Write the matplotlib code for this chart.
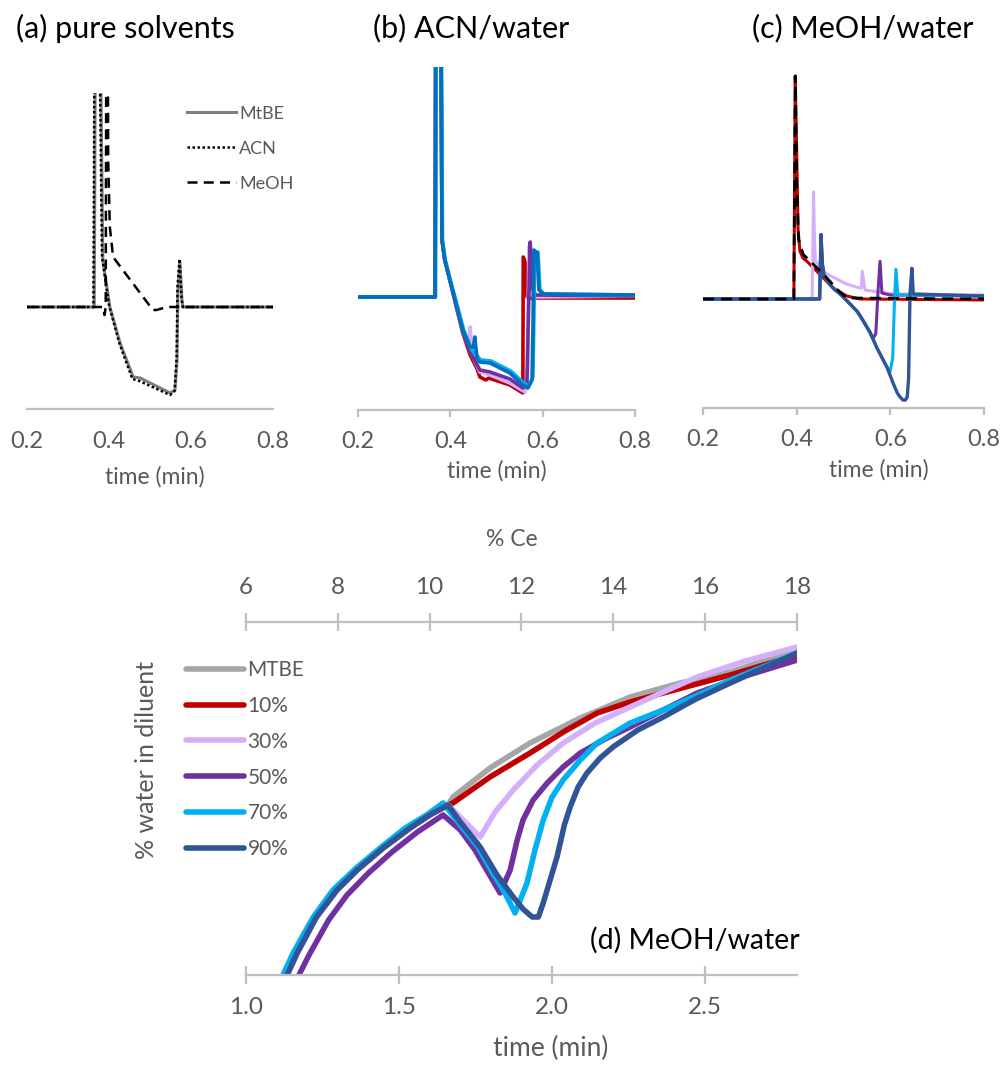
import numpy as np
import matplotlib
matplotlib.use("Agg")
import matplotlib.pyplot as plt
from matplotlib.ticker import FormatStrFormatter

plt.rcParams['font.family'] = ['Lato', 'DejaVu Sans']

W, H = 1003, 1068
GRID = '#BFBFBF'
TXT = '#595959'

# ---- (a) pure solvents ----
a_mtbe_t = [0.20, 0.364, 0.368, 0.372, 0.378, 0.385, 0.402, 0.427, 0.459, 0.476, 0.549, 0.561, 0.566, 0.568, 0.573, 0.578, 0.580, 0.80]
a_mtbe_v = [0, 0, 400, 400, 300, 47, 0, -36, -70, -71, -86, -83, -53, 14, 45, 7, 0, 0]
a_acn_t = [0.20, 0.362, 0.366, 0.370, 0.376, 0.383, 0.400, 0.425, 0.457, 0.474, 0.549, 0.560, 0.565, 0.567, 0.572, 0.577, 0.580, 0.80]
a_acn_v = [0, 0, 400, 400, 300, 50, 2, -36, -72, -74, -88, -84, -50, 20, 48, 8, 0, 0]
a_meoh_t = [0.20, 0.386, 0.389, 0.392, 0.394, 0.396, 0.398, 0.402, 0.410, 0.507, 0.516, 0.541, 0.80]
a_meoh_v = [0, 0, -8, 0, 400, 400, 147, 80, 50, -3, -3, 0, 0]

# ---- (b) ACN/water ----
b_labels = ['10%', '30%', '50%', '70%', '90%']
b_t = {
    '10%': [0.20, 0.367, 0.370, 0.376, 0.382, 0.388, 0.399, 0.414, 0.427, 0.443, 0.458, 0.464, 0.477, 0.483, 0.529, 0.557, 0.558, 0.562, 0.566, 0.570, 0.80],
    '30%': [0.20, 0.367, 0.370, 0.376, 0.382, 0.388, 0.399, 0.414, 0.427, 0.440, 0.443, 0.447, 0.464, 0.486, 0.529, 0.562, 0.567, 0.570, 0.574, 0.580, 0.80],
    '50%': [0.20, 0.367, 0.370, 0.376, 0.382, 0.388, 0.399, 0.414, 0.427, 0.443, 0.464, 0.486, 0.529, 0.557, 0.566, 0.571, 0.573, 0.578, 0.585, 0.80],
    '70%': [0.20, 0.368, 0.371, 0.377, 0.383, 0.389, 0.400, 0.416, 0.429, 0.445, 0.466, 0.488, 0.531, 0.559, 0.570, 0.579, 0.581, 0.583, 0.590, 0.594, 0.603, 0.80],
    '90%': [0.20, 0.367, 0.370, 0.376, 0.382, 0.388, 0.399, 0.414, 0.427, 0.443, 0.450, 0.453, 0.458, 0.464, 0.486, 0.529, 0.557, 0.568, 0.577, 0.579, 0.581, 0.588, 0.592, 0.601, 0.80],
}
b_v = {
    '10%': [0, 0, 600, 600, 57, 37, 17, -12, -36, -58, -72, -80, -83, -81, -88, -96, 40, 35, 0, -1, -1],
    '30%': [0, 0, 600, 600, 57, 37, 17, -10, -35, -50, -30, -58, -75, -78, -86, -95, -80, 50, 5, 0, 1],
    '50%': [0, 0, 600, 600, 57, 37, 17, -10, -35, -55, -73, -75, -82, -91, -85, 20, 55, 8, 2, 1],
    '70%': [0, 0, 600, 600, 57, 37, 17, -10, -33, -52, -63, -64, -74, -86, -89, -80, -20, 40, 45, 7, 3, 2],
    '90%': [0, 0, 600, 600, 57, 37, 17, -10, -33, -50, -50, -40, -62, -65, -66, -76, -88, -91, -83, -30, 47, 44, 7, 3, 2],
}
b_colors = ['#C00000', '#D5B0FA', '#7030A0', '#00B0F0', '#0070C0']

# ---- (c) MeOH/water ----
c_red_t = [0.20, 0.394, 0.397, 0.400, 0.403, 0.407, 0.414, 0.422, 0.443, 0.478, 0.507, 0.535, 0.80]
c_red_v = [0, 0, 225, 150, 70, 48, 41, 38, 28, 11, 3, 0, -1]
c_meoh_t = [0.20, 0.394, 0.397, 0.400, 0.404, 0.414, 0.440, 0.465, 0.490, 0.507, 0.80]
c_meoh_v = [0, 0, 225, 120, 60, 45, 33, 21, 8, 1, 0]
c_30_t = [0.20, 0.433, 0.436, 0.438, 0.440, 0.465, 0.507, 0.535, 0.538, 0.540, 0.546, 0.606, 0.80]
c_30_v = [0, 0, 108, 60, 38, 25, 15, 11, 11, 28, 9, 5, 4]
c_50_t = [0.20, 0.449, 0.452, 0.455, 0.458, 0.465, 0.480, 0.493, 0.514, 0.530, 0.542, 0.557, 0.563, 0.569, 0.574, 0.578, 0.582, 0.600, 0.80]
c_50_v = [0, 0, 65, 35, 25, 18, 10, 5, -5, -13, -22, -34, -40, -35, 10, 38, 6, 4, 3]
c_70_t = [0.20, 0.449, 0.452, 0.455, 0.458, 0.465, 0.480, 0.493, 0.514, 0.530, 0.542, 0.557, 0.571, 0.583, 0.593, 0.599, 0.605, 0.609, 0.612, 0.616, 0.80]
c_70_v = [0, 0, 53, 35, 25, 18, 10, 5, -5, -13, -22, -34, -49, -60, -69, -74, -60, 0, 30, 4, 3]
c_90_t = [0.20, 0.449, 0.452, 0.455, 0.458, 0.465, 0.480, 0.493, 0.514, 0.530, 0.542, 0.557, 0.571, 0.583, 0.593, 0.606, 0.615, 0.621, 0.627, 0.632, 0.636, 0.639, 0.642, 0.646, 0.649, 0.80]
c_90_v = [0, 0, 65, 35, 25, 18, 10, 5, -5, -13, -22, -34, -49, -60, -69, -85, -95, -99, -102, -102, -99, -80, 5, 31, 5, 3]

# ---- (d) MeOH/water, % water in diluent ----
d_labels = ['MTBE', '10%', '30%', '50%', '70%', '90%']
d_colors = ['#A6A6A6', '#C00000', '#D5B0FA', '#7030A0', '#00B0F0', '#2F5597']
rise_t = [1.134, 1.167, 1.230, 1.297, 1.363, 1.448, 1.536, 1.600, 1.660]
rise_v = [0, 22, 58, 85, 105, 127, 147, 160, 170]
d_t = {
    'MTBE': rise_t + [1.676, 1.797, 1.928, 2.092, 2.255, 2.418, 2.582, 2.801],
    '10%': rise_t + [1.676, 1.797, 1.928, 2.042, 2.147, 2.255, 2.363, 2.582, 2.801],
    '30%': rise_t + [1.765, 1.814, 1.873, 1.951, 2.036, 2.141, 2.255, 2.363, 2.474, 2.631, 2.801],
    '50%': [1.173, 1.206, 1.270, 1.330, 1.400, 1.477, 1.560, 1.644, 1.700, 1.748, 1.790, 1.830,
            1.863, 1.886, 1.905, 1.938, 1.984, 2.036, 2.092, 2.173, 2.255, 2.363, 2.474, 2.631, 2.801],
    '70%': [1.121, 1.154, 1.220, 1.284, 1.360, 1.438, 1.520, 1.590, 1.644, 1.700, 1.758, 1.800, 1.846, 1.879,
            1.918, 1.944, 1.971, 2.000, 2.036, 2.092, 2.147, 2.255, 2.363, 2.484, 2.582, 2.696, 2.801],
    '90%': rise_t + [1.700, 1.765, 1.820, 1.873, 1.905, 1.935, 1.955, 1.971, 2.016, 2.040, 2.059, 2.085,
                     2.114, 2.157, 2.199, 2.280, 2.363, 2.470, 2.582, 2.690, 2.801],
}
d_v = {
    'MTBE': rise_v + [178, 207, 232, 257, 278, 292, 303, 325],
    '10%': rise_v + [172, 198, 222, 244, 262, 273, 282, 300, 320],
    '30%': rise_v + [138, 163, 185, 210, 232, 252, 268, 283, 298, 314, 328],
    '50%': [0, 20, 55, 80, 102, 123, 143, 160, 145, 125, 103, 82,
            105, 135, 155, 175, 192, 208, 222, 236, 248, 265, 282, 299, 315],
    '70%': [0, 22, 58, 85, 107, 127, 147, 160, 172, 150, 128, 105, 82, 62,
            92, 125, 155, 178, 195, 215, 232, 252, 265, 281, 295, 309, 322],
    '90%': rise_v + [153, 128, 100, 78, 66, 58, 58, 72, 118, 150, 168, 188,
                     202, 217, 228, 245, 258, 276, 292, 307, 322],
}


def box(x0, y0, x1, y1):
    return [x0 / W, 1 - y1 / H, (x1 - x0) / W, (y1 - y0) / H]


def style_top(ax, ylim, ticks_out=True):
    ax.set_xlim(0.2, 0.8)
    ax.set_ylim(*ylim)
    for s in ['top', 'right', 'left']:
        ax.spines[s].set_visible(False)
    ax.spines['bottom'].set_color(GRID)
    ax.spines['bottom'].set_linewidth(1.6)
    ax.set_yticks([])
    ax.set_xticks([0.2, 0.4, 0.6, 0.8])
    ax.xaxis.set_major_formatter(FormatStrFormatter('%.1f'))
    ax.tick_params(axis='x', colors=GRID, labelcolor=TXT, labelsize=17,
                   length=5 if ticks_out else 0, width=1.6, pad=10 if ticks_out else 16)


fig = plt.figure(figsize=(W / 100, H / 100), dpi=100)

# (a)
ax = fig.add_axes(box(27, 93, 273, 409))
ax.plot(a_mtbe_t, a_mtbe_v, color='#7F7F7F', lw=2.2, label='MtBE')
ax.plot(a_acn_t, a_acn_v, color='black', lw=1.8, ls=(0, (1, 1)), label='ACN')
ax.plot(a_meoh_t, a_meoh_v, color='black', lw=1.8, ls=(0, (4, 2.5)), label='MeOH')
style_top(ax, (-102, 214), ticks_out=False)
ax.legend(loc='upper left', bbox_to_anchor=(0.65, 0.96), frameon=False, fontsize=13,
          labelcolor=TXT, handlelength=2.7, handletextpad=0.2, labelspacing=1.05,
          borderpad=0, borderaxespad=0)

# (b)
ax = fig.add_axes(box(358, 67, 635, 410))
for lab, col in zip(b_labels, b_colors):
    ax.plot(b_t[lab], b_v[lab], color=col, lw=2.6, solid_joinstyle='round')
style_top(ax, (-113, 230))

# (c)
ax = fig.add_axes(box(703, 73, 984, 408))
ax.plot(c_red_t, c_red_v, color='#C00000', lw=2.2)
ax.plot(c_30_t, c_30_v, color='#D5B0FA', lw=2.2)
ax.plot(c_50_t, c_50_v, color='#7030A0', lw=2.2)
ax.plot(c_70_t, c_70_v, color='#00B0F0', lw=2.2)
ax.plot(c_90_t, c_90_v, color='#2F5597', lw=2.4)
ax.plot(c_meoh_t, c_meoh_v, color='black', lw=2.0, ls=(0, (4, 2.5)))
style_top(ax, (-110, 228))

fig.text(16 / W, 1 - 28 / H, '(a) pure solvents', fontsize=22, va='center')
fig.text(373 / W, 1 - 28 / H, '(b) ACN/water', fontsize=22, va='center')
fig.text(752 / W, 1 - 28 / H, '(c) MeOH/water', fontsize=22, va='center')
fig.text(155 / W, 1 - 477 / H, 'time (min)', fontsize=16.5, color=TXT, ha='center', va='center')
fig.text(497 / W, 1 - 471 / H, 'time (min)', fontsize=16.5, color=TXT, ha='center', va='center')
fig.text(879 / W, 1 - 470 / H, 'time (min)', fontsize=16.5, color=TXT, ha='center', va='center')

# (d)
ax = fig.add_axes(box(246, 622, 797, 975))
for lab, col in zip(d_labels, d_colors):
    ax.plot(d_t[lab], d_v[lab], color=col, lw=4, label=lab,
            solid_joinstyle='round', solid_capstyle='round')
ax.set_xlim(1.0, 2.8)
ax.set_ylim(0, 353)
for s in ['top', 'right', 'left']:
    ax.spines[s].set_visible(False)
ax.spines['bottom'].set_color(GRID)
ax.spines['bottom'].set_linewidth(1.6)
ax.set_yticks([])
ax.set_xticks([1.0, 1.5, 2.0, 2.5])
ax.xaxis.set_major_formatter(FormatStrFormatter('%.1f'))
ax.tick_params(axis='x', direction='inout', length=13, width=1.6, colors=GRID,
               labelcolor=TXT, labelsize=17.5, pad=9)

secax = ax.secondary_xaxis('top', functions=(lambda t: 6 + (t - 1.0) * 20 / 3,
                                             lambda c: 1.0 + (c - 6) * 3 / 20))
secax.set_xticks([6, 8, 10, 12, 14, 16, 18])
secax.spines['top'].set_color(GRID)
secax.spines['top'].set_linewidth(1.6)
secax.tick_params(axis='x', direction='inout', length=13, width=1.6, colors=GRID,
                  labelcolor=TXT, labelsize=17.5, pad=11)

fig.text(512 / W, 1 - 540 / H, '% Ce', fontsize=16.5, color=TXT, ha='center', va='center')
fig.text(551 / W, 1 - 1048 / H, 'time (min)', fontsize=19, color=TXT, ha='center', va='center')
fig.text(147 / W, 1 - 760 / H, '% water in diluent', fontsize=18, color=TXT,
         rotation=90, ha='center', va='center')

fig.legend(*ax.get_legend_handles_labels(), loc='upper left',
           bbox_to_anchor=(186 / W, 1 - 660 / H), frameon=False, fontsize=15,
           labelcolor=TXT, handlelength=2.8, handletextpad=0.15, labelspacing=0.76,
           borderpad=0, borderaxespad=0)
fig.text(800 / W, 1 - 940 / H, '(d) MeOH/water', fontsize=20.5, ha='right', va='center')

fig.savefig('out.png', dpi=100)
